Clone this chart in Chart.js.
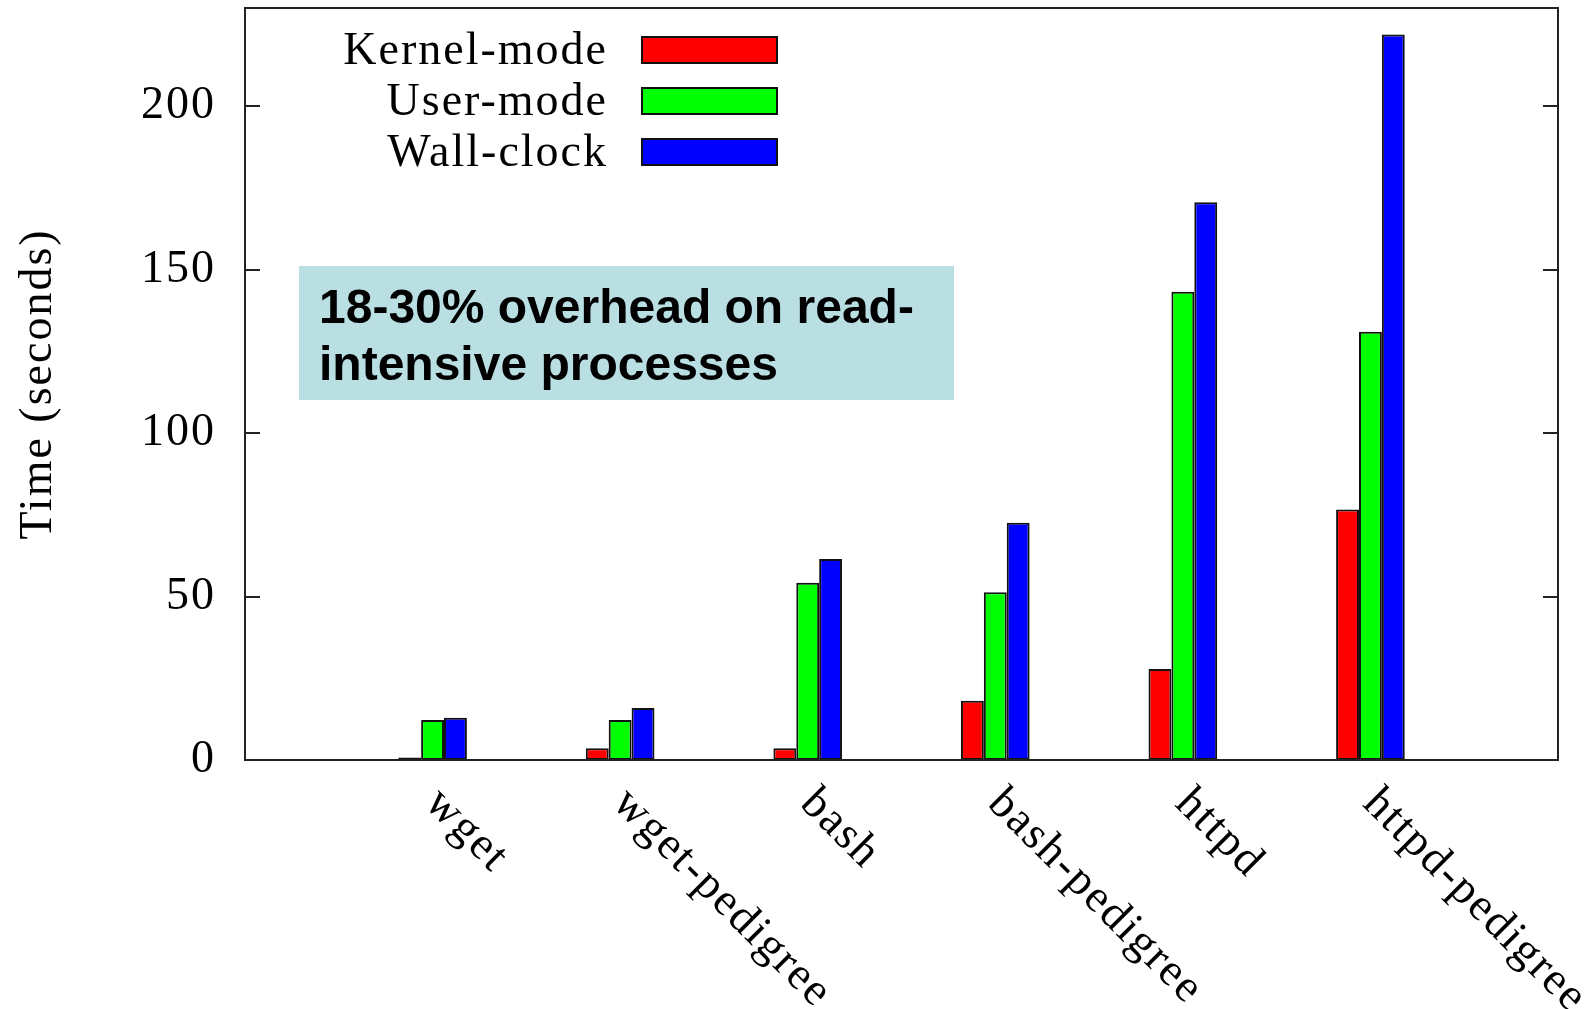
<!DOCTYPE html>
<html>
<head>
<meta charset="utf-8">
<script src="https://cdn.jsdelivr.net/npm/chart.js@4.4.0/dist/chart.umd.min.js"></script>
<style>
  html, body { margin: 0; padding: 0; background: #fff; }
  #wrap { width: 1595px; height: 1009px; position: relative; }
</style>
</head>
<body>
<div id="wrap"><canvas id="timeChart"></canvas></div>
<script>
const programs = ['wget', 'wget-pedigree', 'bash', 'bash-pedigree', 'httpd', 'httpd-pedigree'];
const kernelMode = [0.8, 3.6, 3.6, 18.1, 27.8, 76.6];
const userMode = [12.2, 12.2, 54.2, 51.3, 143.2, 131.0];
const wallClock = [12.9, 15.9, 61.5, 72.6, 170.6, 221.9];
const yTicks = [0, 50, 100, 150, 200];
const yMax = 230;
const noteLines = ['18-30% overhead on read-', 'intensive processes'];

const ink = '#000';
const serif = '"Liberation Serif", "Times New Roman", serif';
const serifSize = 46;

// gnuplot leaves an empty slot on each side of the groups
const labels = [''].concat(programs, ['']);
function pad(arr) { return [null].concat(arr, [null]); }

const gnuplotDecor = {
  id: 'gnuplotDecor',
  beforeDraw(chart) {
    chart.ctx.letterSpacing = '2px';
  },
  afterDraw(chart) {
    const ctx = chart.ctx;
    const area = chart.chartArea;
    const xs = chart.scales.x;
    const ys = chart.scales.y;

    ctx.save();
    ctx.strokeStyle = '#222';
    ctx.lineWidth = 2;
    // frame
    ctx.strokeRect(area.left, area.top, area.right - area.left, area.bottom - area.top);
    // inward tick marks, mirrored on the right
    ctx.beginPath();
    yTicks.forEach(v => {
      const y = Math.round(ys.getPixelForValue(v));
      ctx.moveTo(area.left, y); ctx.lineTo(area.left + 15, y);
      ctx.moveTo(area.right - 15, y); ctx.lineTo(area.right, y);
    });
    ctx.stroke();

    // rotated category labels
    ctx.letterSpacing = '2px';
    ctx.font = serifSize + 'px ' + serif;
    ctx.fillStyle = ink;
    ctx.textAlign = 'left';
    ctx.textBaseline = 'alphabetic';
    labels.forEach((lab, i) => {
      if (!lab) return;
      const x = xs.getPixelForValue(i);
      ctx.save();
      ctx.translate(x - 9, area.bottom + 45);
      ctx.rotate(Math.PI / 4);
      ctx.fillText(lab, 0, 0);
      ctx.restore();
    });

    // legend: label on the left, swatch on the right
    ctx.textAlign = 'right';
    ctx.textBaseline = 'middle';
    chart.data.datasets.forEach((ds, i) => {
      const cy = 50 + i * 51;
      ctx.fillStyle = ink;
      ctx.fillText(ds.label, 608, cy + 2);
      ctx.fillStyle = ds.backgroundColor;
      ctx.fillRect(642, cy - 13, 135, 26);
      ctx.strokeStyle = '#111';
      ctx.strokeRect(642, cy - 13, 135, 26);
    });

    // annotation box
    ctx.letterSpacing = '0px';
    ctx.fillStyle = '#b9dfe3';
    ctx.fillRect(299, 266, 655, 134);
    ctx.fillStyle = ink;
    ctx.font = 'bold 48px "Liberation Sans", Arial, sans-serif';
    ctx.textAlign = 'left';
    ctx.textBaseline = 'alphabetic';
    noteLines.forEach((t, i) => ctx.fillText(t, 319, 323 + i * 57));
    ctx.restore();
  }
};

const ctxTime = document.getElementById('timeChart').getContext('2d');

new Chart(ctxTime, {
  type: 'bar',
  data: {
    labels: labels,
    datasets: [
      { label: 'Kernel-mode', data: pad(kernelMode), backgroundColor: '#ff0000' },
      { label: 'User-mode', data: pad(userMode), backgroundColor: '#00ff00' },
      { label: 'Wall-clock', data: pad(wallClock), backgroundColor: '#0000ff' }
    ].map(ds => Object.assign(ds, {
      borderColor: '#111',
      borderWidth: 2,
      borderSkipped: false,
      categoryPercentage: 0.366,
      barPercentage: 1
    }))
  },
  options: {
    responsive: true,
    maintainAspectRatio: false,
    animation: false,
    layout: { padding: { top: 8, right: 37, left: 0, bottom: 0 } },
    plugins: {
      legend: { display: false },
      tooltip: { enabled: false }
    },
    scales: {
      x: {
        type: 'category',
        offset: false,
        grid: { display: false, drawTicks: false },
        border: { display: false },
        ticks: { display: false },
        afterFit: s => { s.height = 249; s.paddingLeft = 0; s.paddingRight = 0; }
      },
      y: {
        min: 0,
        max: yMax,
        grid: { display: false, drawTicks: false },
        border: { display: false },
        afterBuildTicks: s => { s.ticks = yTicks.map(v => ({ value: v })); },
        ticks: {
          padding: 29,
          color: ink,
          font: { family: serif, size: serifSize }
        },
        title: {
          display: true,
          text: 'Time (seconds)',
          color: ink,
          font: { family: serif, size: serifSize },
          padding: { top: 11, bottom: 0 }
        },
        afterFit: s => { s.width = 245; s.paddingTop = 0; s.paddingBottom = 0; }
      }
    }
  },
  plugins: [gnuplotDecor]
});
</script>
</body>
</html>
